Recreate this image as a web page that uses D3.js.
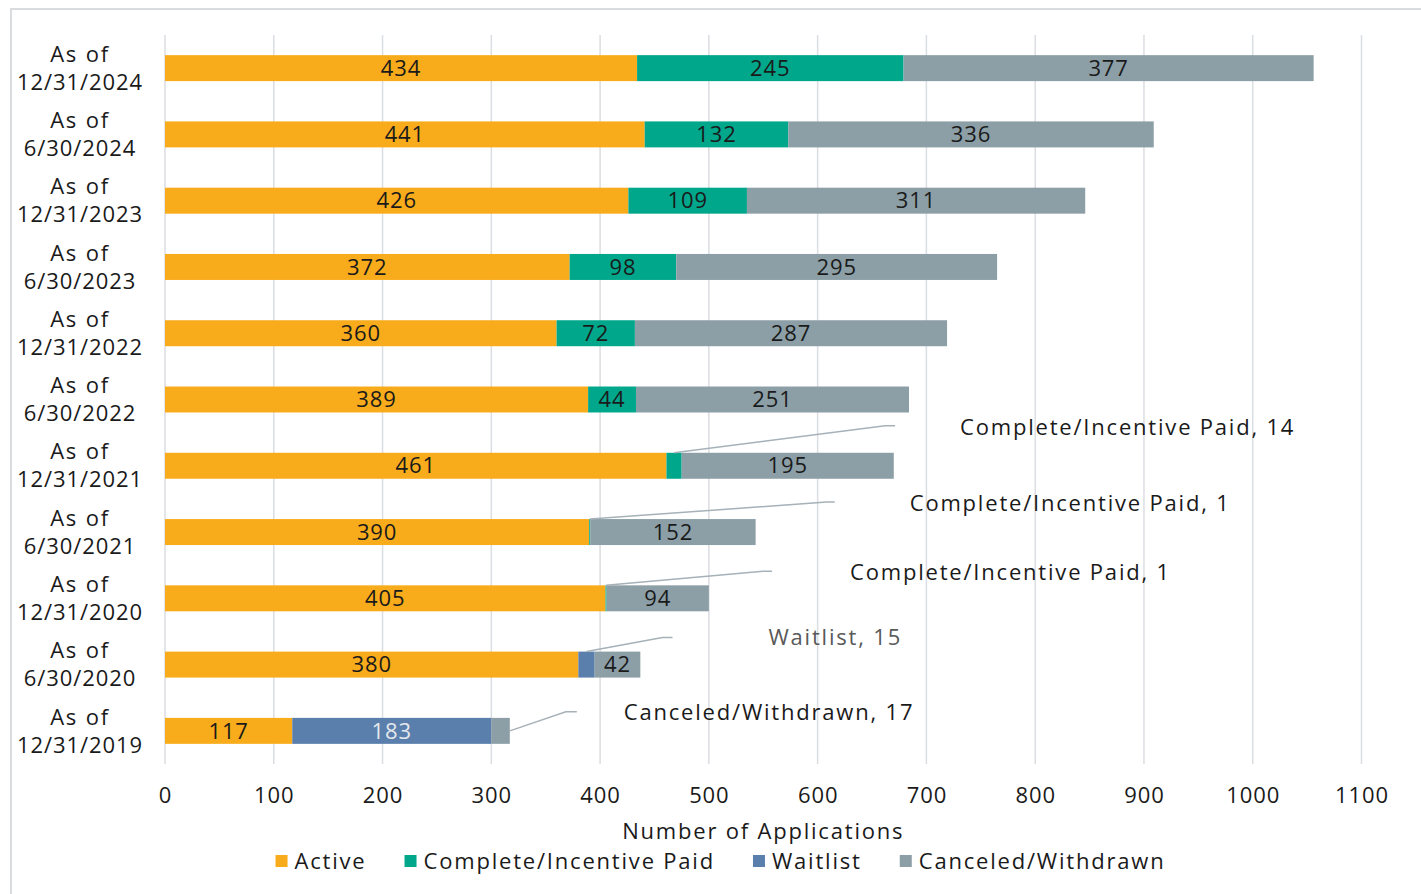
<!DOCTYPE html>
<html>
<head>
<meta charset="utf-8">
<script src="https://cdn.jsdelivr.net/npm/d3@7"></script>
<style>
  html, body { margin: 0; padding: 0; background: #fff; }
  svg { display: block; font-family: "Open Sans", "DejaVu Sans", sans-serif; }
  .num { letter-spacing: 0.9px; }
  .word { letter-spacing: 1.8px; }
</style>
</head>
<body>
<svg id="chart" width="1421" height="894"></svg>
<script>
// Reporting dates, top to bottom
const categories = ["12/31/2024", "6/30/2024", "12/31/2023", "6/30/2023", "12/31/2022",
  "6/30/2022", "12/31/2021", "6/30/2021", "12/31/2020", "6/30/2020", "12/31/2019"];

const seriesNames = ["Active", "Complete/Incentive Paid", "Waitlist", "Canceled/Withdrawn"];

const active    = [434, 441, 426, 372, 360, 389, 461, 390, 405, 380, 117];
const complete  = [245, 132, 109, 98, 72, 44, 14, 1, 1, 0, 0];
const waitlist  = [0, 0, 0, 0, 0, 0, 0, 0, 0, 15, 183];
const canceled  = [377, 336, 311, 295, 287, 251, 195, 152, 94, 42, 17];

const xTicks = [0, 100, 200, 300, 400, 500, 600, 700, 800, 900, 1000, 1100];

const colors = {
  "Active": "#F9AC1B",
  "Complete/Incentive Paid": "#00A78B",
  "Waitlist": "#5A7FAD",
  "Canceled/Withdrawn": "#8C9FA7"
};

// Small segments labelled with a leader line instead of an inline value
const callouts = [
  { cat: "12/31/2021", key: "Complete/Incentive Paid", anchor: "top",   elbow: [211, -27], tail: 10, text: [286, -25], color: "#1a1a1a" },
  { cat: "6/30/2021",  key: "Complete/Incentive Paid", anchor: "top",   elbow: [237, -17], tail: 8,  text: [320, -16], color: "#1a1a1a" },
  { cat: "12/31/2020", key: "Complete/Incentive Paid", anchor: "top",   elbow: [157, -14], tail: 9,  text: [244, -13], color: "#1a1a1a" },
  { cat: "6/30/2020",  key: "Waitlist",                anchor: "top",   elbow: [76, -14],  tail: 10, text: [182, -14], color: "#595959" },
  { cat: "12/31/2019", key: "Canceled/Withdrawn",      anchor: "right", elbow: [56, -19],  tail: 11, text: [114, -19], color: "#1a1a1a" }
];

const rows = categories.map((c, i) => ({
  cat: c,
  "Active": active[i],
  "Complete/Incentive Paid": complete[i],
  "Waitlist": waitlist[i],
  "Canceled/Withdrawn": canceled[i]
}));

const svg = d3.select("#chart");
const plot = { left: 165, right: 1361.5, top: 35, bottom: 764 };

// outer frame
svg.append("rect")
  .attr("x", 11).attr("y", 9).attr("width", 1420).attr("height", 900)
  .attr("fill", "none").attr("stroke", "#D9DCDF").attr("stroke-width", 2);

const x = d3.scaleLinear().domain([0, 1100]).range([plot.left, plot.right]);
const y = d3.scaleBand().domain(categories).range([plot.top, plot.bottom])
  .paddingInner(0.608).paddingOuter(0.304);

// vertical gridlines
svg.append("g").selectAll("line").data(xTicks).join("line")
  .attr("x1", d => x(d)).attr("x2", d => x(d))
  .attr("y1", plot.top).attr("y2", plot.bottom)
  .attr("stroke", "#DADDE2").attr("stroke-width", 1.5);

// x tick labels
const xAxis = d3.axisBottom(x).tickValues(xTicks).tickFormat(d3.format("d"))
  .tickSize(0).tickPadding(0);
const gx = svg.append("g").attr("transform", `translate(0,${plot.bottom})`).call(xAxis);
gx.select(".domain").remove();
gx.selectAll("text")
  .attr("class", "num")
  .attr("y", 31).attr("dy", "0.35em")
  .attr("font-size", 22).attr("fill", "#1a1a1a")
  .attr("font-family", "'Open Sans', sans-serif");

// category labels, two lines each
const yl = svg.append("g");
categories.forEach(c => {
  const cy = y(c) + y.bandwidth() / 2;
  const t = yl.append("text").attr("text-anchor", "middle")
    .attr("font-size", 22).attr("fill", "#1a1a1a");
  t.append("tspan").attr("class", "word").attr("x", 80).attr("y", cy - 14).attr("dy", "0.35em").text("As of");
  t.append("tspan").attr("class", "num").attr("x", 80).attr("y", cy + 14).attr("dy", "0.35em").text(c);
});

// stacked bars
const stacked = d3.stack().keys(seriesNames)(rows);
const layers = svg.append("g").selectAll("g").data(stacked).join("g")
  .attr("fill", d => colors[d.key]);
layers.selectAll("rect").data(d => d.map(s => ({ s, key: d.key }))).join("rect")
  .attr("x", d => x(d.s[0]))
  .attr("y", d => y(d.s.data.cat))
  .attr("width", d => x(d.s[1]) - x(d.s[0]))
  .attr("height", y.bandwidth());

// inline value labels
const isCallout = (cat, key) => callouts.some(c => c.cat === cat && c.key === key);
const labelG = svg.append("g");
stacked.forEach(layer => {
  layer.forEach(s => {
    const v = s[1] - s[0];
    if (v <= 0 || isCallout(s.data.cat, layer.key)) return;
    labelG.append("text")
      .attr("class", "num")
      .attr("x", x((s[0] + s[1]) / 2))
      .attr("y", y(s.data.cat) + y.bandwidth() / 2)
      .attr("dy", "0.35em")
      .attr("text-anchor", "middle")
      .attr("font-size", 22)
      .attr("fill", layer.key === "Waitlist" ? "#E4E8EC" : "#1a1a1a")
      .text(v);
  });
});

// callouts with leader lines
const calloutG = svg.append("g");
callouts.forEach(c => {
  const layer = stacked.find(l => l.key === c.key);
  const s = layer[categories.indexOf(c.cat)];
  const v = s[1] - s[0];
  let ax, ay;
  if (c.anchor === "top") {
    ax = x((s[0] + s[1]) / 2);
    ay = y(c.cat);
  } else {
    ax = x(s[1]);
    ay = y(c.cat) + y.bandwidth() / 2;
  }
  const ex = ax + c.elbow[0], ey = ay + c.elbow[1];
  calloutG.append("polyline")
    .attr("points", [[ax, ay], [ex, ey], [ex + c.tail, ey]].map(p => p.join(",")).join(" "))
    .attr("fill", "none").attr("stroke", "#A6B1B8").attr("stroke-width", 1.5);
  calloutG.append("text")
    .attr("class", "word")
    .attr("x", ax + c.text[0]).attr("y", ay + c.text[1]).attr("dy", "0.35em")
    .attr("font-size", 22).attr("fill", c.color)
    .text(`${c.key}, ${v}`);
});

// axis title
svg.append("text")
  .attr("class", "word")
  .attr("x", (plot.left + plot.right) / 2).attr("y", 831).attr("dy", "0.35em")
  .attr("text-anchor", "middle").attr("font-size", 22).attr("fill", "#1a1a1a")
  .text("Number of Applications");

// legend
const legend = svg.append("g");
const items = seriesNames.map(name => {
  const g = legend.append("g");
  g.append("rect").attr("width", 12).attr("height", 12).attr("y", -6).attr("fill", colors[name]);
  const t = g.append("text").attr("class", "word").attr("x", 19).attr("dy", "0.35em")
    .attr("font-size", 22).attr("fill", "#1a1a1a").text(name);
  return { g, w: 19 + t.node().getComputedTextLength() };
});
const gap = 38;
const total = d3.sum(items, d => d.w) + gap * (items.length - 1);
let lx = 720.5 - total / 2;
items.forEach(it => {
  it.g.attr("transform", `translate(${lx},861)`);
  lx += it.w + gap;
});
</script>
</body>
</html>
